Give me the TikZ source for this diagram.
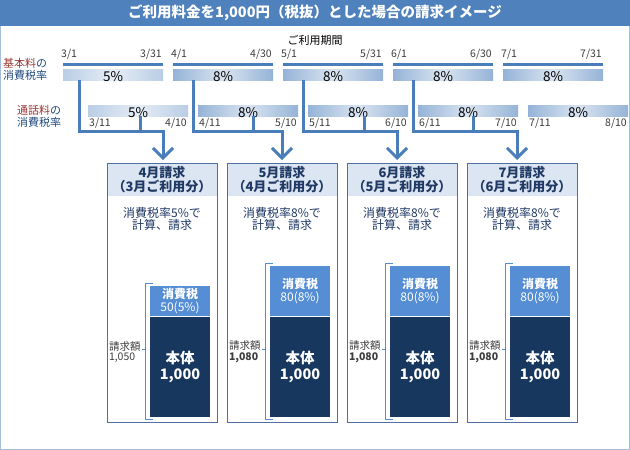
\documentclass[tikz,border=0pt]{standalone}
\usepackage{fontspec}
\setmainfont{Noto Sans CJK JP}
\usetikzlibrary{arrows.meta}

\definecolor{titleblue}{HTML}{4F81BD}
\definecolor{framec}{HTML}{A7BFDE}
\definecolor{linec}{HTML}{4A7EBB}
\definecolor{bar5}{HTML}{B9CDE5}
\definecolor{bar8}{HTML}{95B3D7}
\definecolor{boxline}{HTML}{4F6FA3}
\definecolor{headfill}{HTML}{DCE6F2}
\definecolor{hdtext}{HTML}{1F3864}
\definecolor{rowc}{HTML}{1F497D}
\definecolor{redlbl}{HTML}{953735}
\definecolor{zeic}{HTML}{558ED5}
\definecolor{honc}{HTML}{17375E}
\definecolor{datec}{HTML}{3B3B3B}

\tikzset{
  titlebar/.style={fill=titleblue, text=white, minimum width=630pt, minimum height=26pt,
    inner sep=0pt, outer sep=0pt, font=\fontsize{14.5}{16}\selectfont\bfseries},
  rowlabel/.style={align=left, inner sep=0pt, text=rowc, font=\fontsize{11}{12}\selectfont},
  period/.style={draw=linec, line width=3pt},
  bar/.style={shade, left color=bar#1, right color=bar#1, middle color=bar#1!35!white,
    minimum width=100pt, minimum height=11pt, inner sep=0pt, outer sep=0pt},
  pct/.style={inner sep=0pt, font=\fontsize{13.5}{13.5}\selectfont},
  date/.style={inner sep=1pt, text=datec, font=\fontsize{10.5}{10.5}\selectfont},
  conn/.style={draw=linec, line width=3pt},
  billbox/.style={draw=boxline, minimum width=110pt, minimum height=259pt, inner sep=0pt, outer sep=0pt},
  billhead/.style={fill=headfill, text=hdtext, align=center, minimum width=110pt, minimum height=33pt,
    inner sep=0pt, outer sep=0pt, font=\fontsize{13}{13.5}\selectfont\bfseries},
  billnote/.style={text=hdtext, align=center, inner sep=0pt, font=\fontsize{12}{12}\selectfont},
  zei/.style={fill=zeic, text=white, align=center, minimum width=60pt, inner sep=0pt, outer sep=0pt,
    font=\fontsize{12}{12.5}\selectfont},
  hon/.style={fill=honc, text=white, align=center, minimum width=60pt, minimum height=100pt,
    inner sep=0pt, outer sep=0pt, font=\fontsize{14.5}{15.5}\selectfont\bfseries},
  bracketline/.style={draw=zeic, line width=1pt},
  total/.style={align=left, inner sep=0pt, text=datec, font=\fontsize{10.5}{10.5}\selectfont},
}

\begin{document}
\begin{tikzpicture}[x=1pt,y=-1pt]
  \useasboundingbox (0,0) rectangle (630,450);
  \draw[framec, line width=1pt] (0.5,0.5) rectangle (629.5,449.5);
  \node[titlebar, anchor=north west] (title) at (0,0) {ご利用料金を1,000円（税抜）とした場合の請求イメージ};
  \node[inner sep=0pt, font=\fontsize{11}{12}\selectfont] (span) at (315,40) {ご利用期間};

  \node[rowlabel, anchor=west] (kl) at (3,69) {\textcolor{redlbl}{基本料}の\\消費税率};
  \node[rowlabel, anchor=west] (tl) at (17,116) {\textcolor{redlbl}{通話料}の\\消費税率};

  \foreach \x/\bmon/\last/\rate [count=\i] in {63/3/31/5,173/4/30/8,283/5/31/8,393/6/30/8,503/7/31/8}{
    \node[bar=\rate, anchor=north west] (k\i) at (\x,69) {};
    \draw[period] ([yshift=5pt]k\i.north west) -- ([yshift=5pt]k\i.north east);
    \node[date, anchor=south west] (ks\i) at ([xshift=-3pt,yshift=8pt]k\i.north west) {\bmon/1};
    \node[date, anchor=south east] (ke\i) at ([yshift=8pt]k\i.north east) {\bmon/\last};
    \node[pct] (kp\i) at ([yshift=-2pt]k\i.center) {\rate\%};
  }

  \foreach \x/\bmon/\nmon/\rate [count=\i] in {88/3/4/5,198/4/5/8,308/5/6/8,418/6/7/8,528/7/8/8}{
    \node[bar=\rate, anchor=north west] (t\i) at (\x,105) {};
    \node[date, anchor=north west] (ts\i) at ([yshift=-1pt]t\i.south west) {\bmon/11};
    \node[date, anchor=north east] (te\i) at ([yshift=-1pt]t\i.south east) {\nmon/10};
    \node[pct] (tp\i) at ([yshift=-2pt]t\i.center) {\rate\%};
  }

  \foreach \x/\bmon/\umon/\rate/\zh/\tot [count=\i] in {162/4/3/5/30/{1,050},282/5/4/8/50/{\bfseries 1,080},402/6/5/8/50/{\bfseries 1,080},522/7/6/8/50/{\bfseries 1,080}}{
    \node[billhead, anchor=north] (h\i) at (\x,163) {\bmon 月請求\\（\umon 月ご利用分）};
    \node[billbox, anchor=north] (r\i) at (\x,163) {};
    \node[billnote] (n\i) at ([yshift=-56pt]r\i.north) {消費税率\rate\%で\\計算、請求};
    \node[hon, anchor=south] (hon\i) at ([xshift=18pt,yshift=5pt]r\i.south) {本体\\1,000};
    \node[zei, minimum height=\zh pt, anchor=south] (zei\i) at ([yshift=1pt]hon\i.north) {\textbf{消費税}\\\rate0(\rate\%)};
    \draw[bracketline] ([xshift=3pt,yshift=3pt]zei\i.north west) -| ([xshift=-5pt,yshift=-2pt]hon\i.south west)
      -- ([xshift=3pt,yshift=-2pt]hon\i.south west);
    \coordinate (m\i) at ([xshift=-5pt,yshift=-32pt]hon\i.north west);
    \draw[bracketline] (m\i) -- ++(-3,0) node[total, anchor=east, xshift=-1pt, yshift=-3pt] (g\i) {請求額\\\tot};
  }

  \foreach \i/\bx/\cx/\ax in {1/79/140/163,2/193/253/282,3/303/364/397,4/413/473/517}{
    \coordinate (u\i) at (\bx,131);
    \coordinate (v\i) at (\cx,131);
    \coordinate (j\i) at (\ax,131);
    \draw[conn] (t\i.south -| v\i) -- (v\i);
    \draw[conn, -{Straight Barb[length=10pt,width=20pt]}, shorten >=3pt]
      (k\i.south -| u\i) -- (u\i) -- (j\i) -- (r\i.north -| j\i);
  }
\end{tikzpicture}
\end{document}
